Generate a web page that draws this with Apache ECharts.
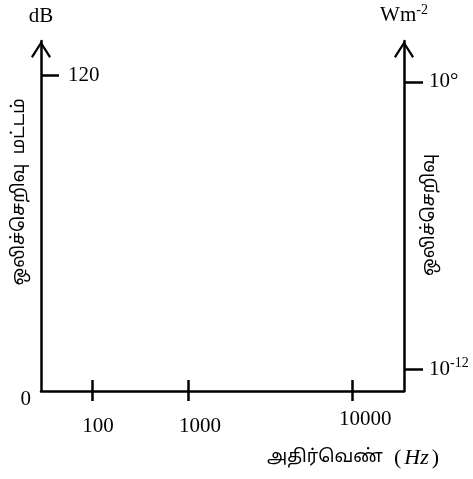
<!DOCTYPE html>
<html><head><meta charset="utf-8">
<script src="https://cdn.jsdelivr.net/npm/echarts@6/dist/echarts.min.js"></script>
<style>html,body{margin:0;padding:0;background:#fff}#c{width:473px;height:479px}</style>
</head><body><div id="c"></div>
<script>
// ---- data ----
const xTickLabels = ['100', '1000', '10000'];
const xTickPos = [14.05, 40.5, 85.7];      // schematic positions along frequency axis (0-100)
const xLabelPos = [15.7, 43.8, 89.3];
const leftTicks = [120];                   // sound level, dB
const leftMax = 133;
const rightTicks = [-12, 0];               // intensity exponent (10^n W m^-2)
const rightMin = -12.92, rightMax = 1.71;
const leftTitle = 'ஒலிச்செறிவு  மட்டம்';
const rightTitle = 'ஒலிச்செறிவு';
const xTitle = 'அதிர்வெண்';

const serif = '"Liberation Serif", "DejaVu Serif", serif';
const tamil = '"Noto Sans Tamil", "Lohit Tamil", "Noto Serif Tamil", "Latha", sans-serif';
const arrow = 'path://M10,0 L20,15.6 L18.2,17 L10,4 L1.8,17 L0,15.6 Z';
const lineW = 2.5;
const gridRect = {left: 41, right: 69, top: 41, bottom: 88};

const chart = echarts.init(document.getElementById('c'), null, {renderer: 'canvas'});
chart.setOption({
  animation: false,
  grid: [Object.assign({}, gridRect), Object.assign({}, gridRect)],
  xAxis: [{
    gridIndex: 0, type: 'value', min: 0, max: 100, position: 'bottom',
    axisLine: {show: true, lineStyle: {color: '#000', width: lineW}},
    axisTick: {show: true, length: 10, lineStyle: {color: '#000', width: lineW}, customValues: xTickPos},
    axisLabel: {
      show: true, customValues: xLabelPos, margin: 18, color: '#000',
      fontFamily: serif, fontSize: 21,
      formatter: (v) => { const i = xLabelPos.indexOf(v); return i < 2 ? '{a|' + xTickLabels[i] + '}' : '{b|' + xTickLabels[i] + '}'; },
      rich: {a: {fontFamily: serif, fontSize: 21, color: '#000', padding: [7, 0, 0, 0]},
             b: {fontFamily: serif, fontSize: 21, color: '#000', padding: [0, 0, 0, 0]}}
    },
    splitLine: {show: false}
  }, {
    gridIndex: 1, type: 'value', min: 0, max: 100, position: 'bottom',
    axisLine: {show: false},
    axisTick: {show: true, inside: true, length: 11, lineStyle: {color: '#000', width: lineW}, customValues: xTickPos},
    axisLabel: {show: false},
    splitLine: {show: false}
  }],
  yAxis: [{
    gridIndex: 0, type: 'value', min: 0, max: leftMax, position: 'left',
    name: 'dB', nameLocation: 'end', nameGap: 14,
    nameTextStyle: {fontFamily: serif, fontSize: 21, color: '#000', align: 'center'},
    axisLine: {show: true, symbol: ['none', arrow], symbolSize: [20, 17], symbolOffset: [0, -8.5],
               lineStyle: {color: '#000', width: lineW}},
    axisTick: {show: true, inside: true, length: 18, lineStyle: {color: '#000', width: lineW}, customValues: leftTicks},
    axisLabel: {show: true, inside: true, margin: 27, customValues: leftTicks, color: '#000', fontFamily: serif, fontSize: 21},
    splitLine: {show: false}
  }, {
    gridIndex: 0, type: 'value', min: rightMin, max: rightMax, position: 'right',
    name: '{n|Wm}{s|-2}', nameLocation: 'end', nameGap: 14,
    nameTextStyle: {align: 'center', rich: {
      n: {fontFamily: serif, fontSize: 21, color: '#000'},
      s: {fontFamily: serif, fontSize: 14, color: '#000', padding: [0, 0, 10, 0]}}},
    axisLine: {show: true, symbol: ['none', arrow], symbolSize: [20, 17], symbolOffset: [0, -8.5],
               lineStyle: {color: '#000', width: lineW}},
    axisTick: {show: true, length: 19, lineStyle: {color: '#000', width: lineW}, customValues: rightTicks},
    axisLabel: {
      show: true, margin: 25, customValues: rightTicks, color: '#000',
      formatter: (v) => v === 0 ? '{b|10°}' : '{b|10}{s|' + v + '}',
      rich: {b: {fontFamily: serif, fontSize: 21, color: '#000'},
             s: {fontFamily: serif, fontSize: 14, color: '#000', padding: [0, 0, 12, 0]}}
    },
    splitLine: {show: false}
  }, {
    gridIndex: 1, type: 'value', min: 0, max: leftMax, position: 'left',
    axisLine: {show: false}, axisTick: {show: false},
    axisLabel: {show: true, margin: 10, customValues: [0], color: '#000', fontFamily: serif, fontSize: 21,
                verticalAlign: 'top', lineHeight: 17},
    splitLine: {show: false}
  }],
  series: [],
  graphic: [
    {type: 'text', x: 20, y: 192, rotation: Math.PI / 2,
     style: {text: leftTitle, fontFamily: tamil, fontSize: 18, fill: '#000', align: 'center', verticalAlign: 'middle'}},
    {type: 'text', x: 430, y: 215, rotation: Math.PI / 2,
     style: {text: rightTitle, fontFamily: tamil, fontSize: 18, fill: '#000', align: 'center', verticalAlign: 'middle'}},
    {type: 'text', x: 353, y: 458,
     style: {text: '{t|' + xTitle + '}{p|  (}{h|Hz}{p|)}', align: 'center', verticalAlign: 'middle',
             rich: {t: {fontFamily: tamil, fontSize: 18, fill: '#000'},
                    p: {fontFamily: serif, fontSize: 22, fill: '#000'},
                    h: {fontFamily: serif, fontSize: 22, fontStyle: 'italic', fill: '#000', padding: [0, 3, 0, 3]}}}}
  ]
});
</script>
</body></html>
